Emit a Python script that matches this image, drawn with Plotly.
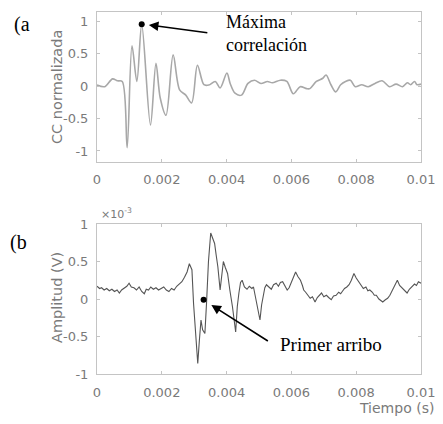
import numpy as np
import plotly.graph_objects as go

# (a) normalised cross-correlation, time in ms
t_cc_ms = [0.00, 0.24, 0.48, 0.63, 0.78, 0.93, 1.08, 1.23, 1.38, 1.65, 1.82, 1.95, 2.13,
           2.35, 2.55, 2.74, 2.92, 3.10, 3.30, 3.45, 3.65, 3.80, 4.01, 4.11, 4.26, 4.46,
           4.66, 4.86, 5.06, 5.26, 5.41, 5.66, 5.86, 6.06, 6.27, 6.47, 6.57, 6.77, 6.97,
           7.07, 7.22, 7.37, 7.52, 7.67, 7.82, 7.97, 8.17, 8.37, 8.58, 8.80, 9.03, 9.23,
           9.43, 9.58, 9.68, 9.80, 9.88, 10.0]
cc_norm = [0.015, -0.01, 0.11, 0.08, 0.07, -0.95, 0.62, 0.07, 0.95, -0.60, 0.35, -0.18, -0.45,
           0.48, -0.06, -0.14, -0.26, 0.32, 0.02, 0.015, 0.07, -0.03, 0.20, 0.04, -0.11, -0.14,
           0.04, 0.09, 0.04, 0.07, 0.05, 0.09, 0.07, -0.12, -0.01, -0.04, -0.04, 0.07, 0.12,
           0.17, 0.02, -0.09, 0.02, 0.07, 0.09, -0.01, 0.02, -0.01, 0.04, 0.08, -0.01, 0.03,
           -0.01, 0.05, 0.02, 0.07, 0.02, 0.03]

# (b) received signal, amplitude in units of 1e-3 V
t_sig_ms = [0.00, 0.08, 0.14, 0.22, 0.30, 0.38, 0.46, 0.54, 0.62, 0.69, 0.76, 0.84, 0.92, 0.99,
            1.06, 1.14, 1.22, 1.30, 1.38, 1.46, 1.52, 1.59, 1.66, 1.74, 1.82, 1.90, 1.98, 2.06,
            2.14, 2.22, 2.30, 2.38, 2.46, 2.54, 2.62, 2.70, 2.78, 2.85, 2.93, 2.98, 3.05, 3.11,
            3.16, 3.21, 3.26, 3.33, 3.38, 3.44, 3.51, 3.57, 3.63, 3.68, 3.73, 3.80, 3.86, 3.90,
            3.96, 4.03, 4.10, 4.18, 4.28, 4.33, 4.38, 4.43, 4.48, 4.55, 4.63, 4.70, 4.78, 4.83,
            4.88, 4.96, 5.03, 5.08, 5.13, 5.18, 5.23, 5.30, 5.38, 5.45, 5.53, 5.60, 5.66, 5.73,
            5.80, 5.87, 5.93, 6.00, 6.07, 6.13, 6.20, 6.28, 6.34, 6.38, 6.44, 6.50, 6.58, 6.65,
            6.73, 6.80, 6.87, 6.93, 7.00, 7.08, 7.15, 7.23, 7.30, 7.38, 7.46, 7.52, 7.57, 7.64,
            7.71, 7.78, 7.85, 7.93, 8.00, 8.08, 8.15, 8.22, 8.30, 8.36, 8.42, 8.50, 8.56, 8.62,
            8.70, 8.76, 8.82, 8.90, 8.97, 9.04, 9.12, 9.18, 9.27, 9.34, 9.42, 9.50, 9.57, 9.64,
            9.72, 9.80, 9.86, 9.92, 10.0]
amp_e3 = [0.17, 0.14, 0.15, 0.12, 0.14, 0.11, 0.13, 0.10, 0.12, 0.08, 0.12, 0.14, 0.17, 0.21,
          0.16, 0.15, 0.12, 0.16, 0.10, 0.07, 0.13, 0.12, 0.16, 0.13, 0.15, 0.12, 0.14, 0.16,
          0.12, 0.10, 0.14, 0.12, 0.17, 0.20, 0.23, 0.29, 0.36, 0.47, 0.39, -0.06, -0.55, -0.86,
          -0.55, -0.28, -0.41, -0.46, -0.06, 0.50, 0.88, 0.82, 0.74, 0.58, 0.43, 0.12, 0.40, 0.50,
          0.42, 0.34, 0.12, -0.10, -0.44, -0.10, 0.08, 0.22, 0.25, 0.16, 0.13, 0.17, 0.14, 0.16,
          0.05, -0.12, -0.28, -0.08, 0.05, 0.15, 0.19, 0.16, 0.13, 0.19, 0.21, 0.17, 0.22, 0.23,
          0.18, 0.12, 0.15, 0.22, 0.30, 0.36, 0.30, 0.25, 0.18, 0.12, 0.09, 0.05, 0.01, 0.03,
          -0.04, 0.02, 0.05, 0.08, 0.03, 0.05, 0.02, -0.01, 0.04, 0.05, 0.09, 0.07, 0.10, 0.14,
          0.16, 0.19, 0.25, 0.34, 0.28, 0.23, 0.18, 0.14, 0.16, 0.11, 0.12, 0.09, 0.05, 0.05,
          0.00, -0.02, -0.04, -0.01, 0.01, 0.05, 0.12, 0.16, 0.25, 0.18, 0.14, 0.11, 0.08, 0.13,
          0.16, 0.20, 0.18, 0.23, 0.21]

max_corr = (1.38, 0.95)
first_arrival = (3.29, -0.01)

x_ticks = [0, 0.002, 0.004, 0.006, 0.008, 0.01]
x_ticktext = ["0", "0.002", "0.004", "0.006", "0.008", "0.01"]
y_ticks = [-1, -0.5, 0, 0.5, 1]
y_ticktext = ["-1", "-0.5", "0", "0.5", "1"]

grey_txt = "#7a7a7a"
frame = "#c4c4c4"
sans = "DejaVu Sans, sans-serif"
serif = "Liberation Serif, Times New Roman, serif"

# the page body has an 8px margin on every side, so fit the figure inside it
OFF = 8
W, H = 443 - 2 * OFF, 424 - 2 * OFF
X_END = 421  # right edge of both plot frames (window px)

def px(x):
    return (x - OFF) / W

def py(y):
    return 1 - (y - OFF) / H

fig = go.Figure()
fig.add_trace(go.Scatter(x=np.array(t_cc_ms) * 1e-3, y=cc_norm, mode="lines",
                         line=dict(color="#a8a8a8", width=1.6, shape="spline", smoothing=0.9),
                         xaxis="x", yaxis="y", showlegend=False))
fig.add_trace(go.Scatter(x=[max_corr[0] * 1e-3], y=[max_corr[1]], mode="markers",
                         marker=dict(color="black", size=6), xaxis="x", yaxis="y", showlegend=False))
fig.add_trace(go.Scatter(x=np.array(t_sig_ms) * 1e-3, y=amp_e3, mode="lines",
                         line=dict(color="#555555", width=1.1),
                         xaxis="x2", yaxis="y2", showlegend=False))
fig.add_trace(go.Scatter(x=[first_arrival[0] * 1e-3], y=[first_arrival[1]], mode="markers",
                         marker=dict(color="black", size=6), xaxis="x2", yaxis="y2", showlegend=False))

axis_style = dict(showgrid=False, zeroline=False, showline=True, linecolor=frame, linewidth=1,
                  mirror="ticks", ticks="inside", ticklen=3, tickcolor=frame, automargin=False,
                  ticklabeloverflow="allow",
                  tickfont=dict(family=sans, size=13, color=grey_txt))

fig.update_layout(
    width=W, height=H, margin=dict(l=0, r=0, t=0, b=0),
    paper_bgcolor="white", plot_bgcolor="white",
    xaxis=dict(domain=[px(97), px(X_END)], range=[0, 0.01], anchor="y",
               tickvals=x_ticks, ticktext=x_ticktext, ticklabelstandoff=5, **axis_style),
    yaxis=dict(domain=[py(162), py(12)], range=[-1.17, 1.14], anchor="x",
               tickvals=y_ticks, ticktext=y_ticktext, ticklabelstandoff=5, **axis_style),
    xaxis2=dict(domain=[px(97), px(X_END)], range=[0, 0.01], anchor="y2",
                tickvals=x_ticks, ticktext=x_ticktext, ticklabelstandoff=6, **axis_style),
    yaxis2=dict(domain=[py(374), py(224)], range=[-1, 1], anchor="x2",
                tickvals=y_ticks, ticktext=y_ticktext, ticklabelstandoff=5, **axis_style),
)

ann = []
ann.append(dict(text="(a", xref="paper", yref="paper", x=px(12), y=py(25),
                xanchor="left", yanchor="middle", showarrow=False,
                font=dict(family=serif, size=20, color="black")))
ann.append(dict(text="(b", xref="paper", yref="paper", x=px(8), y=py(243),
                xanchor="left", yanchor="middle", showarrow=False,
                font=dict(family=serif, size=20, color="black")))
ann.append(dict(text="CC normalizada", xref="paper", yref="paper", x=px(57), y=py(87),
                xanchor="center", yanchor="middle", textangle=-90, showarrow=False,
                font=dict(family=sans, size=14.5, color=grey_txt)))
ann.append(dict(text="Amplitud (V)", xref="paper", yref="paper", x=px(57), y=py(298),
                xanchor="center", yanchor="middle", textangle=-90, showarrow=False,
                font=dict(family=sans, size=14.5, color=grey_txt)))
ann.append(dict(text="Tiempo (s)", xref="paper", yref="paper", x=px(396), y=py(408),
                xanchor="center", yanchor="middle", showarrow=False,
                font=dict(family=sans, size=14, color=grey_txt)))
ann.append(dict(text="×10<sup>-3</sup>", xref="paper", yref="paper", x=px(99), y=py(213),
                xanchor="left", yanchor="middle", showarrow=False,
                font=dict(family=sans, size=11, color=grey_txt)))
ann.append(dict(text="Máxima<br>correlación", xref="paper", yref="paper", x=px(224), y=py(10),
                xanchor="left", yanchor="top", align="left", showarrow=False,
                font=dict(family=serif, size=18, color="black")))
ann.append(dict(text="Primer arribo", xref="paper", yref="paper", x=px(278), y=py(344),
                xanchor="left", yanchor="middle", showarrow=False,
                font=dict(family=serif, size=19, color="black")))
# arrows
ann.append(dict(text="", x=1.60e-3, y=0.94, xref="x", yref="y", ax=60, ay=8,
                showarrow=True, arrowhead=2, arrowsize=1.2, arrowwidth=1.6, arrowcolor="black"))
ann.append(dict(text="", x=3.53e-3, y=-0.08, xref="x2", yref="y2", ax=58, ay=37,
                showarrow=True, arrowhead=2, arrowsize=1.2, arrowwidth=1.6, arrowcolor="black"))
fig.update_layout(annotations=ann)

fig.write_html("out.html")
